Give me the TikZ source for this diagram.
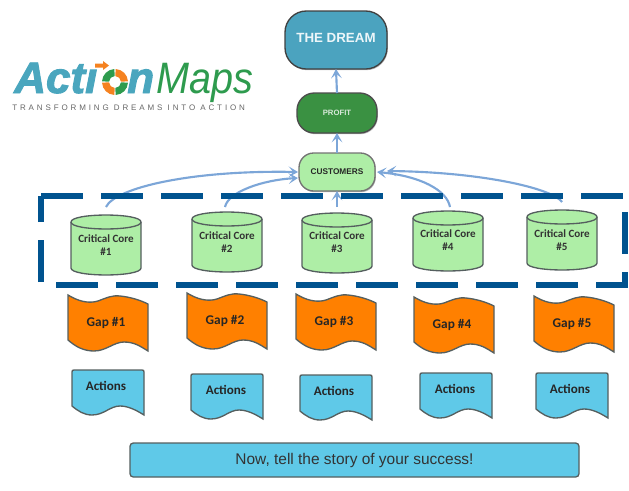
\documentclass[tikz,border=0pt]{standalone}
\usepackage{fontspec}
\usetikzlibrary{arrows.meta,shadows}
\setmainfont{Carlito}
\newfontfamily\arialfont{Liberation Sans}
\newfontfamily\logobold[BoldItalicFeatures={FakeBold=2.2}]{Liberation Sans}
\newfontfamily\tagfont[LetterSpace=36]{Liberation Sans}
\definecolor{dreamc}{HTML}{4BA3BF}
\definecolor{profitc}{HTML}{3A9142}
\definecolor{lightg}{HTML}{AEEEA6}
\definecolor{gapc}{HTML}{FF8000}
\definecolor{actc}{HTML}{5FC9E8}
\definecolor{flowc}{HTML}{7CA6D8}
\definecolor{dashc}{HTML}{00538F}
\definecolor{logog}{HTML}{2E9B4E}
\definecolor{logot}{HTML}{4AA6BE}
\definecolor{logoo}{HTML}{F58220}
\definecolor{edgec}{HTML}{555F5F}
\tikzset{
 softshadow/.style={drop shadow={shadow xshift=0.6pt,shadow yshift=-0.9pt,opacity=.28,fill=black}},
 pillbox/.style={draw=#1,line width=1pt,rectangle,outer sep=0pt,align=center,inner sep=0pt},
 flow/.style={draw=flowc,line width=1.6pt,-{Stealth[length=7pt,width=8pt,inset=3.4pt]}},
 shapeline/.style={draw=edgec,line width=1pt},
 corelabel/.style={rectangle,minimum width=52.5pt,minimum height=45pt,inner sep=0pt,outer sep=0pt,align=center,font=\bfseries\fontsize{8.3}{10.2}\selectfont,text=black!80},
 gaplabel/.style={rectangle,minimum width=60pt,minimum height=42pt,inner sep=0pt,outer sep=0pt,font=\bfseries\fontsize{10}{12}\selectfont,text=black!85},
 actlabel/.style={rectangle,inner sep=0pt,outer sep=0pt,font=\bfseries\fontsize{9.8}{11}\selectfont,text=black!85},
 ringo/.style={fill=logoo,draw=none},
 ringg/.style={fill=logog,draw=none}
}
\newcommand\corecyl[2]{%
 \begin{scope}[shift={(#1,#2)}]
 \path[shapeline,fill=lightg] (0,7) .. controls (0,-2.3) and (70,-2.3) .. (70,7) -- (70,53) .. controls (70,62.3) and (0,62.3) .. (0,53) -- cycle;
 \path[shapeline] (0,7) .. controls (0,16.3) and (70,16.3) .. (70,7);
 \end{scope}}
\newcommand\gapflag[2]{%
 \begin{scope}[shift={(#1,#2)}]
 \path[shapeline,fill=gapc] (0,0) .. controls (10,6) and (20,9) .. (30,6) .. controls (38,3) and (44,0) .. (52,1) .. controls (62,2) and (72,5) .. (80,9) -- (80,56) .. controls (72,51) and (66,47) .. (56,47) .. controls (46,47) and (38,56) .. (26,56) .. controls (16,56) and (8,52) .. (0,45) -- cycle;
 \end{scope}}
\newcommand\actdoc[2]{%
 \begin{scope}[shift={(#1,#2)}]
 \path[shapeline,fill=actc] (0,36) -- (0,2) .. controls (0,0.5) and (0.5,0) .. (2,0) -- (70,0) .. controls (71.5,0) and (72,0.5) .. (72,2) -- (72,45) .. controls (64,40) and (56,36) .. (48,36) .. controls (38,36) and (32,45) .. (20,45) .. controls (12,45) and (6,41) .. (0,36) -- cycle;
 \end{scope}}
\newcommand\ringseg[3]{%
 \path[#1] (115,82) ++(#2:13) arc (#2:#3:13) -- ([shift={(#3:6)}]115,82) arc (#3:#2:6) -- cycle;}
\begin{document}
\begin{tikzpicture}[x=0.75pt,y=-0.75pt]
\useasboundingbox (0,0) rectangle (629,490);
% logo
\node[anchor=base west,inner sep=0pt,text=logot,font=\logobold\bfseries\itshape\fontsize{33}{33}\selectfont] (logoa) at (14,93) {Actı};
\node[anchor=base west,inner sep=0pt,text=logot,font=\logobold\bfseries\itshape\fontsize{33}{33}\selectfont] (logon) at (127,93) {n};
\node[anchor=base west,inner sep=0pt,text=logog,xscale=.9,font=\arialfont\itshape\fontsize{33}{33}\selectfont] (logom) at (156,93) {Maps};
\node[anchor=base west,inner sep=0pt,text=black!60,font=\tagfont\fontsize{6}{6}\selectfont] (logot) at (12,110) {TRANSFORMING DREAMS INTO ACTION};
\ringseg{ringg}{183}{267}
\ringseg{ringo}{273}{357}
\ringseg{ringo}{93}{177}
\ringseg{ringg}{3}{87}
\path[ringo] (95,63.5) -- (103,63.5) -- (103,61) -- (109,65.5) -- (103,70) -- (103,67.5) -- (95,67.5) -- cycle;
% top nodes
\node[pillbox=black!75,fill=dreamc,minimum width=76.5pt,minimum height=43.5pt,rounded corners=16pt,softshadow,text=white!90!dreamc,font=\arialfont\bfseries\fontsize{10}{12}\selectfont] (dream) at (336,40) {\raisebox{2.5pt}{THE DREAM}};
\node[pillbox=black!70,fill=profitc,minimum width=60pt,minimum height=30pt,rounded corners=13pt,softshadow,text=white!80!profitc,font=\arialfont\bfseries\fontsize{5.8}{7}\selectfont] (profit) at (337,113) {PROFIT};
\node[pillbox=black!55,fill=lightg,minimum width=57pt,minimum height=28.5pt,rounded corners=11pt,softshadow,text=black!85,font=\arialfont\bfseries\fontsize{6.2}{7}\selectfont] (cust) at (337,172) {CUSTOMERS};
% cylinders
\corecyl{71}{215}\corecyl{192}{212}\corecyl{302}{213}\corecyl{413}{211}\corecyl{527}{210}
\node[corelabel] (c1) at (106,245) {Critical Core\\\#1};
\node[corelabel] (c2) at (227,242) {Critical Core\\\#2};
\node[corelabel] (c3) at (337,242) {Critical Core\\\#3};
\node[corelabel] (c4) at (448,240) {Critical Core\\\#4};
\node[corelabel] (c5) at (562,240) {Critical Core\\\#5};
% connectors
\coordinate (e1) at (298,172);
\coordinate (e2) at (298,178);
\coordinate (e4) at (377,172);
\coordinate (e5) at (387,171);
\draw[flow] (profit.north) -- (dream.south);
\draw[flow] (cust.north) -- (profit.south);
\draw[flow] ([yshift=6pt]c1.north) .. controls (115,188) and (190,170) .. (e1);
\draw[flow] ([xshift=-1.5pt,yshift=3.75pt]c2.north) .. controls (228,192) and (262,180) .. (e2);
\draw[flow] ([yshift=3.75pt]c3.north) -- (cust.south);
\draw[flow] ([xshift=1.5pt,yshift=2.25pt]c4.north) .. controls (447,190) and (420,176) .. (e4);
\draw[flow] ([yshift=6pt]c5.north) .. controls (552,188) and (480,172) .. (e5);
% dashed frame
\draw[dashc,line width=4.5pt,dash pattern=on 31.5pt off 13.5pt,line join=miter] (41,196) -- (625,196) -- (625,285) -- (41,285) -- cycle;
% gaps
\gapflag{68}{295}\gapflag{187}{293}\gapflag{296}{294}\gapflag{414}{297}\gapflag{534}{296}
\node[gaplabel] (g1) at (106,323) {Gap \#1};
\node[gaplabel] (g2) at (225,321) {Gap \#2};
\node[gaplabel] (g3) at (334,322) {Gap \#3};
\node[gaplabel] (g4) at (452,325) {Gap \#4};
\node[gaplabel] (g5) at (572,324) {Gap \#5};
% actions
\actdoc{72}{370}\actdoc{191}{374}\actdoc{300}{375}\actdoc{420}{373}\actdoc{536}{373}
\node[actlabel] (a1) at (106,386) {Actions};
\node[actlabel] (a2) at (226,390) {Actions};
\node[actlabel] (a3) at (334,391) {Actions};
\node[actlabel] (a4) at (455,389) {Actions};
\node[actlabel] (a5) at (570,389) {Actions};
% banner
\node[pillbox=edgec,fill=actc,minimum width=336.75pt,minimum height=25.5pt,rounded corners=2.5pt,text=black!80,font=\arialfont\fontsize{11.6}{14}\selectfont] (banner) at (354.5,460) {\raisebox{1.5pt}{Now, tell the story of your success!}};
\end{tikzpicture}
\end{document}
